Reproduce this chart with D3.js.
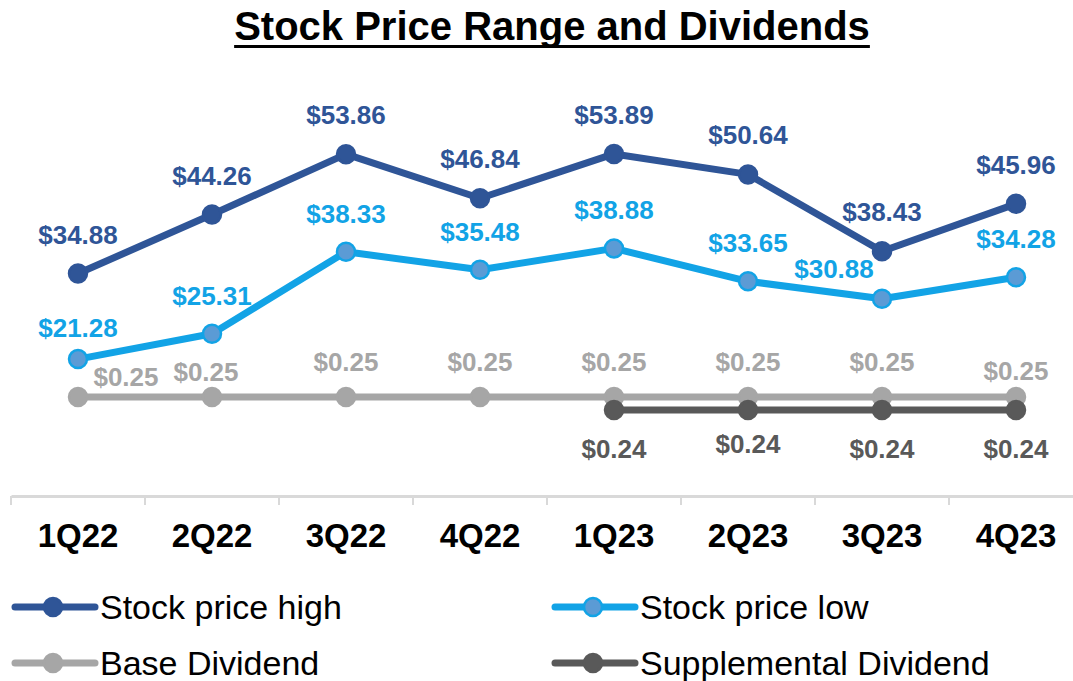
<!DOCTYPE html>
<html>
<head>
<meta charset="utf-8">
<script src="https://cdn.jsdelivr.net/npm/d3@7"></script>
<style>
  body { margin: 0; background: #fff; }
  text { font-family: "Liberation Sans", Arial, sans-serif; }
</style>
</head>
<body>
<div id="container"></div>
<script>
// data
let quarters = ['1Q22', '2Q22', '3Q22', '4Q22', '1Q23', '2Q23', '3Q23', '4Q23'];
let priceHigh = [34.88, 44.26, 53.86, 46.84, 53.89, 50.64, 38.43, 45.96];
let priceLow = [21.28, 25.31, 38.33, 35.48, 38.88, 33.65, 30.88, 34.28];
let baseDiv = [0.25, 0.25, 0.25, 0.25, 0.25, 0.25, 0.25, 0.25];
let suppDiv = [null, null, null, null, 0.24, 0.24, 0.24, 0.24];

// a few labels were moved by hand in the original so they don't collide
let labelNudge = {
    'Stock price low': { '1Q22': [0, 7], '3Q23': [-48, 8] },
    'Base Dividend': { '1Q22': [48, 15], '2Q22': [-6, 10], '4Q23': [0, 9] },
    'Supplemental Dividend': { '2Q23': [0, -5] }
};

let w = 1073;
let h = 681;

let viz = d3.select('#container')
    .append('svg')
    .attr('width', w)
    .attr('height', h);

// title with underline
let title = viz.append('text')
    .attr('x', 552)
    .attr('y', 40)
    .attr('text-anchor', 'middle')
    .attr('font-size', 40)
    .attr('font-weight', 'bold')
    .attr('fill', '#000')
    .text('Stock Price Range and Dividends');
let tw = title.node().getComputedTextLength();
viz.append('rect')
    .attr('x', 552 - tw / 2)
    .attr('y', 45)
    .attr('width', tw)
    .attr('height', 3)
    .attr('fill', '#000');

// scales: prices on the main axis, dividends on a hidden secondary axis
let xScale = d3.scaleBand().domain(quarters).range([11, 1083]);
let cx = d => xScale(d) + xScale.bandwidth() / 2;
let yScale = d3.scaleLinear().domain([0, 60]).range([493, 115.5]);
let y2Scale = d3.scaleLinear().domain([0.24, 0.25]).range([410, 397]);

// x axis
let axisG = viz.append('g').attr('transform', `translate(0,${yScale(0) + 3})`);
let xAxis = d3.axisBottom(xScale).tickSize(0).tickPadding(28);
axisG.call(xAxis);
axisG.select('.domain').attr('stroke', '#d9d9d9').attr('stroke-width', 3);
axisG.selectAll('text')
    .attr('font-size', 33)
    .attr('font-weight', 'bold')
    .attr('fill', '#000')
    .attr('font-family', '"Liberation Sans", Arial, sans-serif');
// tick marks at the category boundaries
axisG.selectAll('.sep')
    .data(quarters.concat(['end']))
    .enter()
    .append('line')
    .attr('x1', (d, i) => xScale.range()[0] + i * xScale.step())
    .attr('x2', (d, i) => xScale.range()[0] + i * xScale.step())
    .attr('y1', 0)
    .attr('y2', 9)
    .attr('stroke', '#d9d9d9')
    .attr('stroke-width', 2);

let fmt = d3.format('$.2f');
let series = [
    { name: 'Base Dividend', values: baseDiv, scale: y2Scale, line: '#a6a6a6', fill: '#a6a6a6', stroke: '#a6a6a6', label: '#a6a6a6', dy: -26 },
    { name: 'Supplemental Dividend', values: suppDiv, scale: y2Scale, line: '#595959', fill: '#595959', stroke: '#595959', label: '#595959', dy: 48 },
    { name: 'Stock price low', values: priceLow, scale: yScale, line: '#12a3e6', fill: '#5b9bd5', stroke: '#12a3e6', label: '#12a3e6', dy: -29 },
    { name: 'Stock price high', values: priceHigh, scale: yScale, line: '#2f5597', fill: '#2f5597', stroke: '#2f5597', label: '#2f5597', dy: -30 }
];

let graphGroup = viz.append('g').classed('graphGroup', true);

function nudge(s, q) {
    return (labelNudge[s.name] && labelNudge[s.name][q]) || [0, 0];
}

series.forEach(s => {
    let pts = quarters.map((q, i) => ({ q: q, v: s.values[i] })).filter(d => d.v !== null);
    let line = d3.line().x(d => cx(d.q)).y(d => s.scale(d.v));
    let g = graphGroup.append('g');
    g.append('path')
        .datum(pts)
        .attr('d', line)
        .attr('fill', 'none')
        .attr('stroke', s.line)
        .attr('stroke-width', 7)
        .attr('stroke-linejoin', 'round');
    g.selectAll('circle')
        .data(pts)
        .enter()
        .append('circle')
        .attr('cx', d => cx(d.q))
        .attr('cy', d => s.scale(d.v))
        .attr('r', 9)
        .attr('fill', s.fill)
        .attr('stroke', s.stroke)
        .attr('stroke-width', 2.5);
    g.selectAll('.lbl')
        .data(pts)
        .enter()
        .append('text')
        .attr('x', d => cx(d.q) + nudge(s, d.q)[0])
        .attr('y', d => s.scale(d.v) + s.dy + nudge(s, d.q)[1])
        .attr('text-anchor', 'middle')
        .attr('font-size', 26)
        .attr('font-weight', 'bold')
        .attr('fill', s.label)
        .text(d => fmt(d.v));
});

// legend
let legendItems = [series[3], series[2], series[0], series[1]];
let legend = viz.append('g');
legendItems.forEach((s, i) => {
    let lx = (i % 2) * 540 + 15;
    let ly = 607 + Math.floor(i / 2) * 56;
    legend.append('line')
        .attr('x1', lx).attr('x2', lx + 80)
        .attr('y1', ly).attr('y2', ly)
        .attr('stroke', s.line)
        .attr('stroke-width', 7)
        .attr('stroke-linecap', 'round');
    legend.append('circle')
        .attr('cx', lx + 38).attr('cy', ly)
        .attr('r', 9)
        .attr('fill', s.fill)
        .attr('stroke', s.stroke)
        .attr('stroke-width', 2.5);
    legend.append('text')
        .attr('x', lx + 85)
        .attr('y', ly + 12)
        .attr('font-size', 34)
        .attr('fill', '#000')
        .text(s.name);
});
</script>
</body>
</html>
